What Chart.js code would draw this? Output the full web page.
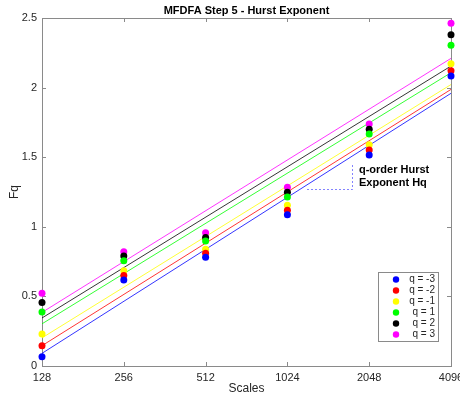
<!DOCTYPE html>
<html>
<head>
<meta charset="utf-8">
<script src="https://cdn.jsdelivr.net/npm/chart.js@4/dist/chart.umd.min.js"></script>
<style>
  html, body { margin: 0; padding: 0; background: #fff; }
  #wrap { width: 460px; height: 398px; }
</style>
</head>
<body>
<div id="wrap"><canvas id="c" width="460" height="398"></canvas></div>
<script>
// Scales (window sizes) on the x axis
const scaleLabels = ['128', '256', '512', '1024', '2048', '4096'];
const yTicks = [0, 0.5, 1, 1.5, 2, 2.5];

// q orders and their colours
const qLabels = ['q = -3', 'q = -2', 'q = -1', 'q = 1', 'q = 2', 'q = 3'];
const qColors = ['#0000ff', '#ff0000', '#ffff00', '#00ff00', '#000000', '#ff00ff'];

// Fluctuation function Fq per scale, one array per q
const fqQm3 = [0.067, 0.618, 0.781, 1.087, 1.516, 2.083];
const fqQm2 = [0.146, 0.651, 0.810, 1.118, 1.552, 2.121];
const fqQm1 = [0.230, 0.685, 0.838, 1.154, 1.590, 2.172];
const fqQp1 = [0.388, 0.757, 0.898, 1.214, 1.667, 2.304];
const fqQp2 = [0.457, 0.790, 0.924, 1.248, 1.700, 2.380];
const fqQp3 = [0.522, 0.821, 0.958, 1.284, 1.738, 2.462];
const fqSeries = [fqQm3, fqQm2, fqQm1, fqQp1, fqQp2, fqQp3];

// Fitted regression lines: value at the first and at the last scale
const fitStart = [0.091, 0.146, 0.202, 0.303, 0.345, 0.385];
const fitEnd   = [1.959, 1.987, 2.022, 2.107, 2.155, 2.210];

const noteLines = ['q-order Hurst', 'Exponent Hq'];

const axisColor = '#8a8a8a';
const textColor = '#262626';
const fontFamily = 'Arial, "Liberation Sans", Helvetica, sans-serif';

const datasets = [];
qLabels.forEach((lab, i) => {
  datasets.push({
    type: 'line',
    label: lab + ' fit',
    data: [
      { x: scaleLabels[0], y: fitStart[i] },
      { x: scaleLabels[scaleLabels.length - 1], y: fitEnd[i] }
    ],
    borderColor: qColors[i],
    borderWidth: 0.8,
    pointRadius: 0,
    fill: false,
    order: 2
  });
});
qLabels.forEach((lab, i) => {
  datasets.push({
    type: 'line',
    label: lab,
    data: fqSeries[i],
    showLine: false,
    pointRadius: 3.5,
    pointHoverRadius: 3.5,
    pointBackgroundColor: qColors[i],
    pointBorderColor: qColors[i],
    pointBorderWidth: 0,
    clip: false,
    order: 1
  });
});

// Frame with inward tick marks, drawn under the data
const frame = {
  id: 'frame',
  beforeDatasetsDraw(chart) {
    const { ctx, chartArea: a, scales: { x, y } } = chart;
    ctx.save();
    ctx.strokeStyle = axisColor;
    ctx.lineWidth = 1;
    ctx.strokeRect(Math.round(a.left) + 0.5, Math.round(a.top) + 0.5,
                   Math.round(a.right - a.left), Math.round(a.bottom - a.top));
    const tl = 4;
    ctx.beginPath();
    x.ticks.forEach((t, i) => {
      const px = Math.round(x.getPixelForTick(i)) + 0.5;
      ctx.moveTo(px, a.bottom); ctx.lineTo(px, a.bottom - tl);
      ctx.moveTo(px, a.top); ctx.lineTo(px, a.top + tl);
    });
    y.ticks.forEach((t, i) => {
      const py = Math.round(y.getPixelForTick(i)) + 0.5;
      ctx.moveTo(a.left, py); ctx.lineTo(a.left + tl, py);
      ctx.moveTo(a.right, py); ctx.lineTo(a.right - tl, py);
    });
    ctx.stroke();
    ctx.restore();
  }
};

// Title, annotation and legend
const decorations = {
  id: 'decorations',
  afterDraw(chart) {
    const { ctx, chartArea: a, scales: { x, y } } = chart;
    ctx.save();
    ctx.fillStyle = '#000';
    ctx.font = 'bold 11px ' + fontFamily;
    ctx.textAlign = 'center';
    ctx.textBaseline = 'middle';
    ctx.fillText('MFDFA Step 5 - Hurst Exponent', (a.left + a.right) / 2, 11);

    // dashed leader and note text
    const cx = x.getPixelForValue(3.24), cy = y.getPixelForValue(1.272);
    const vx = x.getPixelForValue(3.79), vy = y.getPixelForValue(1.458);
    ctx.strokeStyle = 'rgba(90,90,255,0.75)';
    ctx.lineWidth = 1;
    ctx.setLineDash([2, 2]);
    ctx.beginPath();
    ctx.moveTo(Math.round(cx), Math.round(cy) + 0.5);
    ctx.lineTo(Math.round(vx) + 0.5, Math.round(cy) + 0.5);
    ctx.lineTo(Math.round(vx) + 0.5, Math.round(vy));
    ctx.stroke();
    ctx.setLineDash([]);
    ctx.fillStyle = '#000';
    ctx.font = 'bold 11px ' + fontFamily;
    ctx.textAlign = 'left';
    ctx.textBaseline = 'alphabetic';
    const tx = x.getPixelForValue(3.875);
    ctx.fillText(noteLines[0], tx, y.getPixelForValue(1.383));
    ctx.fillText(noteLines[1], tx, y.getPixelForValue(1.290));

    // legend box
    const bw = 60, bh = 69;
    const bx = Math.round(a.right - 13 - bw), by = Math.round(a.bottom - 25 - bh);
    ctx.fillStyle = '#fff';
    ctx.fillRect(bx, by, bw, bh);
    ctx.strokeStyle = axisColor;
    ctx.strokeRect(bx + 0.5, by + 0.5, bw, bh);
    ctx.font = '10px ' + fontFamily;
    ctx.textAlign = 'right';
    ctx.textBaseline = 'middle';
    qLabels.forEach((lab, i) => {
      const ry = by + 7.5 + i * 11;
      ctx.fillStyle = qColors[i];
      ctx.beginPath();
      ctx.arc(bx + 18, ry, 3.2, 0, Math.PI * 2);
      ctx.fill();
      ctx.fillStyle = textColor;
      ctx.fillText(lab, bx + bw - 3, ry);
    });
    ctx.restore();
  }
};

new Chart(document.getElementById('c'), {
  data: { labels: scaleLabels, datasets },
  options: {
    responsive: false,
    animation: false,
    devicePixelRatio: 1,
    layout: { padding: { top: 18, right: 9, left: 0, bottom: 0 } },
    plugins: { legend: { display: false }, tooltip: { enabled: false }, title: { display: false } },
    scales: {
      x: {
        type: 'category',
        offset: false,
        grid: { display: false, drawTicks: false, tickLength: 0 },
        border: { display: false },
        ticks: {
          color: textColor, font: { family: fontFamily, size: 11 },
          padding: 5, maxRotation: 0, autoSkip: false
        },
        title: {
          display: true, text: 'Scales', color: textColor,
          font: { family: fontFamily, size: 12 }, padding: { top: 0, bottom: 2 }
        },
        afterFit(s) { s.height = 32; s.paddingLeft = 0; s.paddingRight = 0; }
      },
      y: {
        min: 0, max: 2.5,
        grid: { display: false, drawTicks: false, tickLength: 0 },
        border: { display: false },
        afterBuildTicks(s) { s.ticks = yTicks.map(v => ({ value: v })); },
        ticks: {
          color: textColor, font: { family: fontFamily, size: 11 },
          padding: 5, callback: v => String(v)
        },
        title: {
          display: true, text: 'Fq', color: textColor,
          font: { family: fontFamily, size: 12 }, padding: { top: 7, bottom: 0 }
        },
        afterFit(s) { s.width = 42; s.paddingTop = 0; s.paddingBottom = 0; }
      }
    }
  },
  plugins: [frame, decorations]
});
</script>
</body>
</html>
